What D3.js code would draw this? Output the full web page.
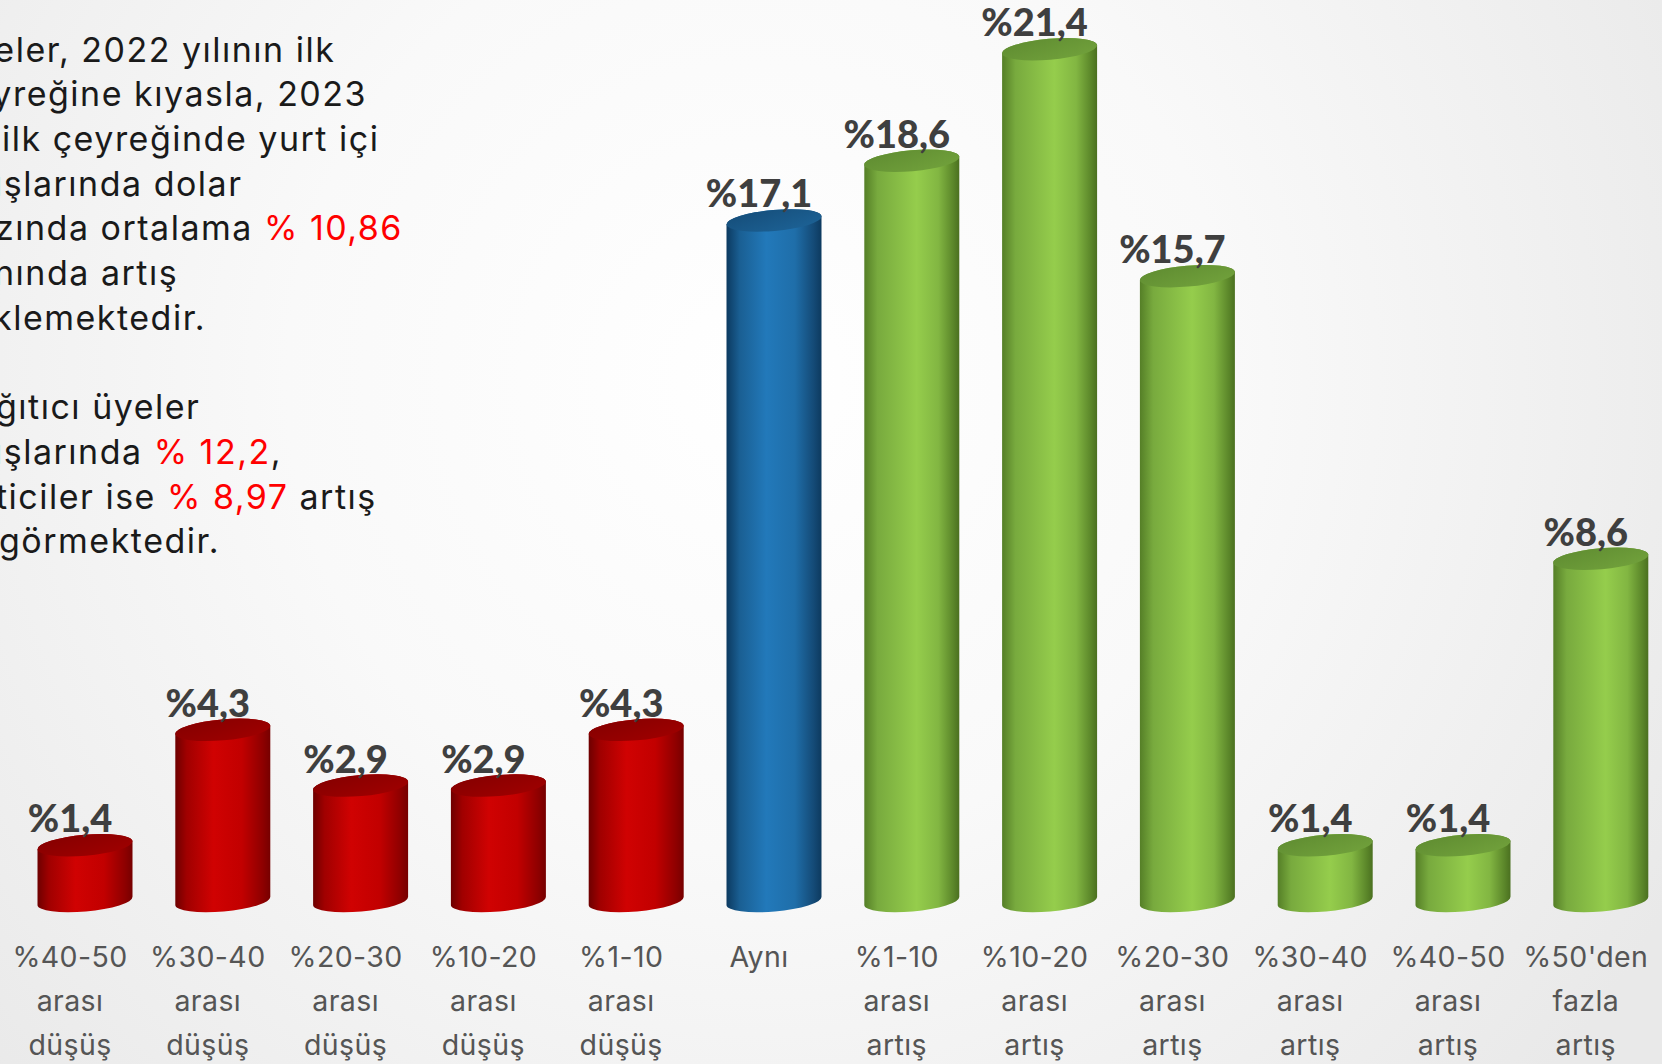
<!DOCTYPE html>
<html><head><meta charset="utf-8">
<script src="https://cdn.jsdelivr.net/npm/d3@7/dist/d3.min.js"></script>
<style>
html,body{margin:0;padding:0;overflow:hidden;background:#f4f4f4;}
svg{display:block;}
</style></head>
<body>
<svg id="chart" width="1662" height="1064"></svg>
<script>
// ---- data ----
const categories = ["%40-50 arası düşüş","%30-40 arası düşüş","%20-30 arası düşüş","%10-20 arası düşüş","%1-10 arası düşüş","Aynı","%1-10 arası artış","%10-20 arası artış","%20-30 arası artış","%30-40 arası artış","%40-50 arası artış","%50'den fazla artış"];
const values = [1.4, 4.3, 2.9, 2.9, 4.3, 17.1, 18.6, 21.4, 15.7, 1.4, 1.4, 8.6];
const groups = ["düşüş","düşüş","düşüş","düşüş","düşüş","aynı","artış","artış","artış","artış","artış","artış"];
const valueLabels = ["%1,4","%4,3","%2,9","%2,9","%4,3","%17,1","%18,6","%21,4","%15,7","%1,4","%1,4","%8,6"];
// note text: [hidden prefix (off-canvas), visible parts [text, highlight?]]
const noteHidden = ["Üy","çe","","sat","ba","ora","be",null,"Da","sat","üre",""];
const noteVisible = [
  [["eler, 2022 yılının ilk",0]],
  [["yreğine kıyasla, 2023",0]],
  [["ilk çeyreğinde yurt içi",0]],
  [["ışlarında dolar",0]],
  [["zında ortalama ",0],["% 10,86",1]],
  [["nında artış",0]],
  [["klemektedir.",0]],
  null,
  [["ğıtıcı üyeler",0]],
  [["ışlarında ",0],["% 12,2",1],[",",0]],
  [["ticiler ise ",0],["% 8,97",1],[" artış",0]],
  [["görmektedir.",0]]
];
const noteStartX = [-5,-7,2,-6,-5,-6,-7,0,-4,-6,-4,-1];

// ---- styles ----
const W = 1662, H = 1064;
const svg = d3.select("#chart");
const defs = svg.append("defs");

const bg = defs.append("radialGradient").attr("id","bg")
  .attr("gradientUnits","userSpaceOnUse").attr("cx",760).attr("cy",380).attr("r",1050);
bg.append("stop").attr("offset","0%").attr("stop-color","#ffffff");
bg.append("stop").attr("offset","45%").attr("stop-color","#f9f9f9");
bg.append("stop").attr("offset","100%").attr("stop-color","#e9e9e9");
svg.append("rect").attr("width",W).attr("height",H).attr("fill","url(#bg)");

const palette = {
  "düşüş": {side:[["0%","#6e0000"],["12%","#a00000"],["40%","#d00202"],["70%","#c20000"],["92%","#8e0000"],["100%","#760000"]], top:["#850000","#a00000"]},
  "aynı":  {side:[["0%","#0c3a60"],["14%","#1a5f93"],["42%","#2279ba"],["72%","#1f6ea9"],["92%","#144a76"],["100%","#0d3a5f"]], top:["#154d79","#1d6397"]},
  "artış": {side:[["0%","#557f27"],["14%","#78aa3e"],["55%","#95cd4c"],["78%","#82b642"],["94%","#5a8529"],["100%","#4b7020"]], top:["#5f8c31","#72a23c"]}
};
Object.entries(palette).forEach(([k,p],i)=>{
  const g = defs.append("linearGradient").attr("id","side"+i).attr("x1",0).attr("x2",1).attr("y1",0).attr("y2",0);
  p.side.forEach(s=>g.append("stop").attr("offset",s[0]).attr("stop-color",s[1]));
  const t = defs.append("linearGradient").attr("id","top"+i).attr("x1",0).attr("x2",1).attr("y1",0).attr("y2",1);
  t.append("stop").attr("offset","0%").attr("stop-color",p.top[0]);
  t.append("stop").attr("offset","100%").attr("stop-color",p.top[1]);
  p.sideId = "side"+i; p.topId = "top"+i;
});

// ---- scales ----
const x = d3.scaleBand().domain(categories).range([1.1, 1654.7]).paddingInner(0.308).paddingOuter(0.154);
const y = d3.scaleLinear().domain([0, 22]).range([901, 901 - 22*39.8]);
const bw = x.bandwidth();
const rx = bw/2, ry = 10.5, rot = -5;
const th = rot*Math.PI/180;
const dx = rx*Math.cos(th), dy = rx*Math.sin(th);
const shift = 15;

const data = categories.map((c,i)=>({c, v:values[i], g:groups[i], lab:valueLabels[i]}));

const bars = svg.append("g").selectAll("g").data(data).join("g");
bars.each(function(d){
  const g = d3.select(this);
  const cx = x(d.c) + bw/2 + shift;
  const yt = y(d.v), yb = y(0);
  const p = palette[d.g];
  const path = `M${cx-dx},${yt-dy} L${cx-dx},${yb-dy} A${rx},${ry} ${rot} 0 0 ${cx+dx},${yb+dy} L${cx+dx},${yt+dy} A${rx},${ry} ${rot} 0 0 ${cx-dx},${yt-dy} Z`;
  g.append("path").attr("d",path).attr("fill",`url(#${p.sideId})`);
  g.append("ellipse").attr("cx",cx).attr("cy",yt).attr("rx",rx).attr("ry",ry)
    .attr("transform",`rotate(${rot} ${cx} ${yt})`).attr("fill",`url(#${p.topId})`);
});

// value labels
svg.append("g").selectAll("text").data(data).join("text")
  .attr("x", d=>x(d.c)+bw/2)
  .attr("y", d=>y(d.v)-13)
  .attr("text-anchor","middle")
  .attr("font-family","Lato, Roboto, sans-serif")
  .attr("font-weight",900)
  .attr("font-size",38)
  .attr("letter-spacing",0)
  .attr("fill","#3f3f3f")
  .text(d=>d.lab);

// category labels
const catBase = [967, 1011, 1055];
const cat = svg.append("g").selectAll("text").data(data).join("text")
  .attr("text-anchor","middle")
  .attr("font-family","Inter, 'Open Sans', sans-serif")
  .attr("font-size",28.5)
  .attr("letter-spacing",0.4)
  .attr("fill","#555555");
cat.each(function(d){
  const words = d.c.split(" ");
  const t = d3.select(this);
  words.forEach((w,j)=>{
    t.append("tspan").attr("x", x(d.c)+bw/2).attr("y", catBase[j]).text(w);
  });
});

// note text
const note = svg.append("g")
  .attr("font-family","Inter, 'Open Sans', sans-serif")
  .attr("font-size",34)
  .attr("letter-spacing",1.5)
  .attr("fill","#1a1a1a");
noteVisible.forEach((parts,i)=>{
  if(!parts) return;
  const by = 61.5 + i*44.7;
  const t = note.append("text").attr("y", by);
  let prefW = 0;
  if(noteHidden[i]){
    const tmp = note.append("text").text(noteHidden[i]);
    prefW = tmp.node().getComputedTextLength();
    tmp.remove();
    t.append("tspan").text(noteHidden[i]);
  }
  parts.forEach(p=>{
    t.append("tspan").attr("fill", p[1] ? "#ff0000" : null).text(p[0]);
  });
  t.attr("x", noteStartX[i] - prefW);
});
</script>
</body></html>
